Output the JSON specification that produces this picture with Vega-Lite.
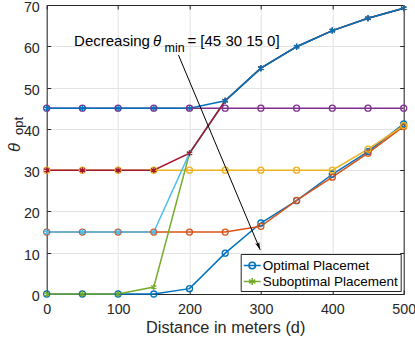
{
  "$schema": "https://vega.github.io/schema/vega-lite/v6.json",
  "width": 357,
  "height": 289,
  "autosize": "none",
  "padding": {"left": 46.7, "top": 5, "right": 11.3, "bottom": 46},
  "background": "white",
  "config": {"view": {"stroke": null}, "font": "Liberation Sans"},
  "data": {
    "values": [
      {"d": 0, "v": 0, "s": "opt0", "t": "opt"},
      {"d": 50, "v": 0, "s": "opt0", "t": "opt"},
      {"d": 100, "v": 0, "s": "opt0", "t": "opt"},
      {"d": 150, "v": 0, "s": "opt0", "t": "opt"},
      {"d": 200, "v": 1.3, "s": "opt0", "t": "opt"},
      {"d": 250, "v": 9.9, "s": "opt0", "t": "opt"},
      {"d": 300, "v": 17.2, "s": "opt0", "t": "opt"},
      {"d": 350, "v": 22.6, "s": "opt0", "t": "opt"},
      {"d": 400, "v": 29.0, "s": "opt0", "t": "opt"},
      {"d": 450, "v": 34.5, "s": "opt0", "t": "opt"},
      {"d": 500, "v": 41.2, "s": "opt0", "t": "opt"},
      {"d": 0, "v": 15, "s": "opt15", "t": "opt"},
      {"d": 50, "v": 15, "s": "opt15", "t": "opt"},
      {"d": 100, "v": 15, "s": "opt15", "t": "opt"},
      {"d": 150, "v": 15, "s": "opt15", "t": "opt"},
      {"d": 200, "v": 15, "s": "opt15", "t": "opt"},
      {"d": 250, "v": 15, "s": "opt15", "t": "opt"},
      {"d": 300, "v": 16.4, "s": "opt15", "t": "opt"},
      {"d": 350, "v": 22.7, "s": "opt15", "t": "opt"},
      {"d": 400, "v": 28.3, "s": "opt15", "t": "opt"},
      {"d": 450, "v": 34.1, "s": "opt15", "t": "opt"},
      {"d": 500, "v": 40.6, "s": "opt15", "t": "opt"},
      {"d": 0, "v": 30, "s": "opt30", "t": "opt"},
      {"d": 50, "v": 30, "s": "opt30", "t": "opt"},
      {"d": 100, "v": 30, "s": "opt30", "t": "opt"},
      {"d": 150, "v": 30, "s": "opt30", "t": "opt"},
      {"d": 200, "v": 30, "s": "opt30", "t": "opt"},
      {"d": 250, "v": 30, "s": "opt30", "t": "opt"},
      {"d": 300, "v": 30, "s": "opt30", "t": "opt"},
      {"d": 350, "v": 30, "s": "opt30", "t": "opt"},
      {"d": 400, "v": 30, "s": "opt30", "t": "opt"},
      {"d": 450, "v": 35.1, "s": "opt30", "t": "opt"},
      {"d": 500, "v": 40.8, "s": "opt30", "t": "opt"},
      {"d": 0, "v": 45, "s": "opt45", "t": "opt"},
      {"d": 50, "v": 45, "s": "opt45", "t": "opt"},
      {"d": 100, "v": 45, "s": "opt45", "t": "opt"},
      {"d": 150, "v": 45, "s": "opt45", "t": "opt"},
      {"d": 200, "v": 45, "s": "opt45", "t": "opt"},
      {"d": 250, "v": 45, "s": "opt45", "t": "opt"},
      {"d": 300, "v": 45, "s": "opt45", "t": "opt"},
      {"d": 350, "v": 45, "s": "opt45", "t": "opt"},
      {"d": 400, "v": 45, "s": "opt45", "t": "opt"},
      {"d": 450, "v": 45, "s": "opt45", "t": "opt"},
      {"d": 500, "v": 45, "s": "opt45", "t": "opt"},
      {"d": 0, "v": 0, "s": "sub0", "t": "sub"},
      {"d": 50, "v": 0, "s": "sub0", "t": "sub"},
      {"d": 100, "v": 0, "s": "sub0", "t": "sub"},
      {"d": 150, "v": 1.7, "s": "sub0", "t": "sub"},
      {"d": 200, "v": 34.1, "s": "sub0", "t": "sub"},
      {"d": 250, "v": 46.8, "s": "sub0", "t": "sub"},
      {"d": 300, "v": 54.7, "s": "sub0", "t": "sub"},
      {"d": 350, "v": 59.9, "s": "sub0", "t": "sub"},
      {"d": 400, "v": 63.8, "s": "sub0", "t": "sub"},
      {"d": 450, "v": 66.8, "s": "sub0", "t": "sub"},
      {"d": 500, "v": 69.2, "s": "sub0", "t": "sub"},
      {"d": 0, "v": 15, "s": "sub15", "t": "sub"},
      {"d": 50, "v": 15, "s": "sub15", "t": "sub"},
      {"d": 100, "v": 15, "s": "sub15", "t": "sub"},
      {"d": 150, "v": 15, "s": "sub15", "t": "sub"},
      {"d": 200, "v": 34.1, "s": "sub15", "t": "sub"},
      {"d": 250, "v": 46.8, "s": "sub15", "t": "sub"},
      {"d": 300, "v": 54.7, "s": "sub15", "t": "sub"},
      {"d": 350, "v": 59.9, "s": "sub15", "t": "sub"},
      {"d": 400, "v": 63.8, "s": "sub15", "t": "sub"},
      {"d": 450, "v": 66.8, "s": "sub15", "t": "sub"},
      {"d": 500, "v": 69.2, "s": "sub15", "t": "sub"},
      {"d": 0, "v": 30, "s": "sub30", "t": "sub"},
      {"d": 50, "v": 30, "s": "sub30", "t": "sub"},
      {"d": 100, "v": 30, "s": "sub30", "t": "sub"},
      {"d": 150, "v": 30, "s": "sub30", "t": "sub"},
      {"d": 200, "v": 34.1, "s": "sub30", "t": "sub"},
      {"d": 250, "v": 46.8, "s": "sub30", "t": "sub"},
      {"d": 300, "v": 54.7, "s": "sub30", "t": "sub"},
      {"d": 350, "v": 59.9, "s": "sub30", "t": "sub"},
      {"d": 400, "v": 63.8, "s": "sub30", "t": "sub"},
      {"d": 450, "v": 66.8, "s": "sub30", "t": "sub"},
      {"d": 500, "v": 69.2, "s": "sub30", "t": "sub"},
      {"d": 0, "v": 45, "s": "sub45", "t": "sub"},
      {"d": 50, "v": 45, "s": "sub45", "t": "sub"},
      {"d": 100, "v": 45, "s": "sub45", "t": "sub"},
      {"d": 150, "v": 45, "s": "sub45", "t": "sub"},
      {"d": 200, "v": 45, "s": "sub45", "t": "sub"},
      {"d": 250, "v": 46.8, "s": "sub45", "t": "sub"},
      {"d": 300, "v": 54.7, "s": "sub45", "t": "sub"},
      {"d": 350, "v": 59.9, "s": "sub45", "t": "sub"},
      {"d": 400, "v": 63.8, "s": "sub45", "t": "sub"},
      {"d": 450, "v": 66.8, "s": "sub45", "t": "sub"},
      {"d": 500, "v": 69.2, "s": "sub45", "t": "sub"}
    ]
  },
  "resolve": {"axis": {"x": "independent", "y": "independent"}},
  "layer": [
    {
      "mark": {"type": "line", "strokeWidth": 1.5, "clip": false},
      "encoding": {
        "x": {
          "field": "d", "type": "quantitative",
          "scale": {"domain": [0, 500], "nice": false, "zero": false},
          "axis": {
            "orient": "bottom", "values": [0, 100, 200, 300, 400, 500], "labelFlush": false,
            "tickSize": -4, "tickColor": "#262626", "domainColor": "#262626",
            "labelPadding": 12, "labelFontSize": 14.3, "labelColor": "#262626", "labelFont": "Liberation Sans",
            "grid": true, "gridColor": "#e3e3e3", "gridWidth": 1,
            "title": "Distance in meters (d)", "titleFontSize": 16.3, "titleFontWeight": "normal",
            "titleColor": "#262626", "titleFont": "Liberation Sans", "titlePadding": 3.5
          }
        },
        "y": {
          "field": "v", "type": "quantitative",
          "scale": {"domain": [0, 70], "nice": false, "zero": false},
          "axis": {
            "orient": "left", "values": [0, 10, 20, 30, 40, 50, 60, 70], "labelFlush": false,
            "tickSize": -4, "tickColor": "#262626", "domainColor": "#262626",
            "labelPadding": 11.4, "labelFontSize": 14.3, "labelColor": "#262626", "labelFont": "Liberation Sans",
            "labelOffset": 2.5,
            "grid": true, "gridColor": "#e3e3e3", "gridWidth": 1, "title": null
          }
        },
        "color": {
          "field": "s", "type": "nominal",
          "scale": {
            "domain": ["opt0", "opt15", "opt30", "opt45", "sub0", "sub15", "sub30", "sub45"],
            "range": ["#0072BD", "#D95319", "#EDB120", "#7E2F8E", "#77AC30", "#4DBEEE", "#A2142F", "#0072BD"]
          },
          "legend": {
            "values": ["opt0", "sub0"],
            "labelExpr": "datum.value == 'opt0' ? 'Optimal Placemet' : 'Suboptimal Placement'",
            "orient": "none", "legendX": 194, "legendY": 249,
            "title": null, "strokeColor": "#262626", "fillColor": "white", "padding": 2,
            "symbolSize": 289, "symbolStrokeWidth": 1.5, "labelFontSize": 13.5, "labelFont": "Liberation Sans",
            "labelColor": "black", "labelOffset": 1, "rowPadding": 0,
            "encode": {
              "symbols": {
                "update": {
                  "shape": {"signal": "datum.value == 'opt0' ? 'M-1,0L1,0M0.38,0A0.38,0.38 0 1,1 -0.38,0A0.38,0.38 0 1,1 0.38,0' : 'M-1,0L1,0M0,-0.42L0,0.42M-0.36,-0.21L0.36,0.21M-0.36,0.21L0.36,-0.21'"},
                  "fill": {"value": "transparent"},
                  "strokeWidth": {"value": 1.5}
                }
              }
            }
          }
        }
      }
    },
    {
      "mark": {"type": "point", "filled": false, "size": 36, "strokeWidth": 1.3, "opacity": 1, "clip": false},
      "encoding": {
        "x": {
          "field": "d", "type": "quantitative",
          "axis": {"orient": "top", "values": [0, 100, 200, 300, 400, 500], "labels": false, "tickSize": -4,
                   "tickColor": "#262626", "domainColor": "#262626", "grid": false, "title": null}
        },
        "y": {
          "field": "v", "type": "quantitative",
          "axis": {"orient": "right", "values": [0, 10, 20, 30, 40, 50, 60, 70], "labels": false, "tickSize": -4,
                   "tickColor": "#262626", "domainColor": "#262626", "grid": false, "title": null}
        },
        "color": {
          "field": "s", "type": "nominal",
          "legend": {
            "values": ["opt0", "sub0"],
            "labelExpr": "datum.value == 'opt0' ? 'Optimal Placemet' : 'Suboptimal Placement'",
            "orient": "none", "legendX": 194, "legendY": 249,
            "title": null, "strokeColor": "#262626", "fillColor": "white", "padding": 2,
            "symbolSize": 289, "symbolStrokeWidth": 1.5, "labelFontSize": 13.5, "labelFont": "Liberation Sans",
            "labelColor": "black", "labelOffset": 1, "rowPadding": 0,
            "encode": {
              "symbols": {
                "update": {
                  "shape": {"signal": "datum.value == 'opt0' ? 'M-1,0L1,0M0.38,0A0.38,0.38 0 1,1 -0.38,0A0.38,0.38 0 1,1 0.38,0' : 'M-1,0L1,0M0,-0.42L0,0.42M-0.36,-0.21L0.36,0.21M-0.36,0.21L0.36,-0.21'"},
                  "fill": {"value": "transparent"},
                  "strokeWidth": {"value": 1.5}
                }
              }
            }
          }
        },
        "shape": {
          "field": "t", "type": "nominal",
          "scale": {"domain": ["opt", "sub"], "range": ["circle", "M0,-1L0,1M-0.87,-0.5L0.87,0.5M-0.87,0.5L0.87,-0.5"]},
          "legend": null
        }
      }
    },
    {
      "data": {"values": [{}]},
      "mark": {"type": "rule", "color": "black", "strokeWidth": 1, "clip": false},
      "encoding": {
        "x": {"datum": 184.5, "type": "quantitative", "axis": null},
        "y": {"datum": 57.9, "type": "quantitative", "axis": null},
        "x2": {"datum": 299},
        "y2": {"datum": 10.7}
      }
    },
    {
      "data": {"values": [{}]},
      "mark": {"type": "point", "shape": "M0,0L-0.5,1.8L0,1.35L0.5,1.8Z", "filled": true, "color": "black", "opacity": 1, "size": 78, "angle": 157.3, "clip": false},
      "encoding": {
        "x": {"datum": 299, "type": "quantitative", "axis": null},
        "y": {"datum": 10.7, "type": "quantitative", "axis": null}
      }
    },
    {
      "data": {"values": [{}]},
      "mark": {"type": "text", "text": "Decreasing", "align": "left", "baseline": "alphabetic", "fontSize": 15, "font": "Liberation Sans", "color": "black", "clip": false},
      "encoding": {
        "x": {"datum": 38.3, "type": "quantitative", "axis": null},
        "y": {"datum": 60.15, "type": "quantitative", "axis": null}
      }
    },
    {
      "data": {"values": [{}]},
      "mark": {"type": "text", "text": "θ", "align": "left", "baseline": "alphabetic", "fontSize": 15, "fontStyle": "italic", "font": "Liberation Sans", "color": "black", "clip": false},
      "encoding": {
        "x": {"datum": 149, "type": "quantitative", "axis": null},
        "y": {"datum": 60.15, "type": "quantitative", "axis": null}
      }
    },
    {
      "data": {"values": [{}]},
      "mark": {"type": "text", "text": "min", "align": "left", "baseline": "alphabetic", "fontSize": 12.5, "font": "Liberation Sans", "color": "black", "clip": false},
      "encoding": {
        "x": {"datum": 165, "type": "quantitative", "axis": null},
        "y": {"datum": 58.7, "type": "quantitative", "axis": null}
      }
    },
    {
      "data": {"values": [{}]},
      "mark": {"type": "text", "text": "= [45 30 15 0]", "align": "left", "baseline": "alphabetic", "fontSize": 15, "font": "Liberation Sans", "color": "black", "clip": false},
      "encoding": {
        "x": {"datum": 197.1, "type": "quantitative", "axis": null},
        "y": {"datum": 60.15, "type": "quantitative", "axis": null}
      }
    },
    {
      "data": {"values": [{}]},
      "mark": {"type": "text", "text": "θ", "align": "left", "baseline": "alphabetic", "angle": 270, "fontSize": 16.5, "fontStyle": "italic", "font": "Liberation Sans", "color": "#262626", "clip": false},
      "encoding": {
        "x": {"datum": -37.4, "type": "quantitative", "axis": null},
        "y": {"datum": 34.4, "type": "quantitative", "axis": null}
      }
    },
    {
      "data": {"values": [{}]},
      "mark": {"type": "text", "text": "opt", "align": "left", "baseline": "alphabetic", "angle": 270, "fontSize": 13, "font": "Liberation Sans", "color": "#262626", "clip": false},
      "encoding": {
        "x": {"datum": -32.5, "type": "quantitative", "axis": null},
        "y": {"datum": 38.5, "type": "quantitative", "axis": null}
      }
    }
  ]
}
